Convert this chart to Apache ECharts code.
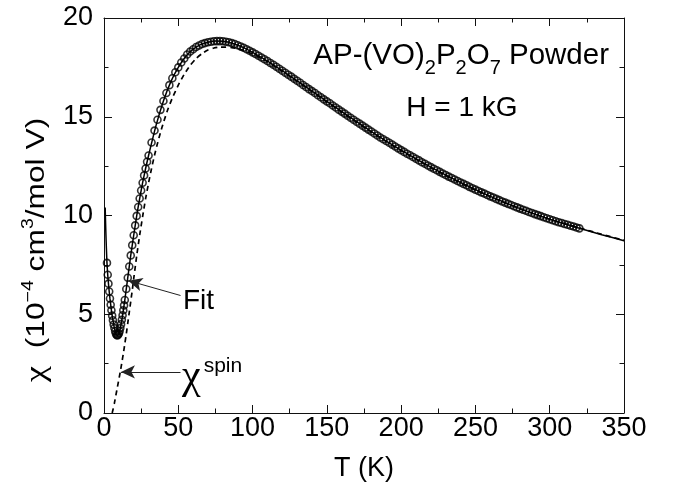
<!DOCTYPE html>
<html>
<head>
<meta charset="utf-8">
<script src="https://cdn.jsdelivr.net/npm/echarts@6/dist/echarts.min.js"></script>
<style>
html,body{margin:0;padding:0;background:#fff;}
#chart{width:675px;height:494px;}
</style>
</head>
<body>
<div id="chart"></div>
<script>
// ---- measured data (T in K, chi in 1e-4 cm^3/mol V) ----
const dataT = [2,2.5,3,3.5,4,4.5,5,5.5,6,6.5,7,7.5,8,8.5,9,9.5,10,10.5,11,11.5,12,12.5,13,13.5,
  14,15,16,17,18,19,20,21,22,23,24,25,26,27,28,29,30,
  32,34,36,38,40,42,44,46,48,50,52,54,56,58,60,62,64,66,68,70,72,74,76,78,80,82,84,86,88,90,92,94,96,98,100,
  102,104,106,108,110,112,114,116,118,120,122,124,126,128,130,132,134,136,138,140,142,144,146,148,150,
  152,154,156,158,160,162,164,166,168,170,172,174,176,178,180,182,184,186,188,190,192,194,196,198,200,
  202,204,206,208,210,212,214,216,218,220,222,224,226,228,230,232,234,236,238,240,242,244,246,248,250,
  252,254,256,258,260,262,264,266,268,270,272,274,276,278,280,282,284,286,288,290,292,294,296,298,300,
  302,304,306,308,310,312,314,316,318,320];
const dataChi = [7.6,7.0,6.55,6.15,5.8,5.48,5.2,4.93,4.7,4.48,4.3,4.14,4.02,3.95,3.93,3.96,4.03,4.14,4.3,4.5,4.72,4.95,5.2,5.45,
  5.72,6.28,6.85,7.42,7.98,8.5,9.0,9.5,9.98,10.43,10.86,11.27,11.66,12.03,12.38,12.72,13.04,
  13.7,14.3,14.85,15.35,15.8,16.2,16.6,16.95,17.25,17.5,17.75,17.95,18.15,18.3,18.42,18.53,18.61,18.68,18.73,18.77,18.8,18.82,18.83,18.83,18.82,18.8,18.77,18.73,18.68,18.62,18.56,18.49,18.42,18.34,18.26,
  18.18,18.09,18.0,17.91,17.82,17.72,17.63,17.53,17.43,17.33,17.23,17.13,17.03,16.92,16.82,16.72,16.61,16.51,16.4,16.3,16.2,16.09,15.99,15.88,15.78,
  15.68,15.57,15.47,15.36,15.26,15.16,15.05,14.95,14.85,14.75,14.65,14.55,14.45,14.35,14.25,14.15,14.05,13.95,13.86,13.77,13.68,13.59,13.49,13.4,13.31,
  13.22,13.13,13.05,12.96,12.87,12.79,12.7,12.62,12.53,12.45,12.37,12.29,12.21,12.13,12.05,11.97,11.9,11.82,11.75,11.67,11.6,11.53,11.45,11.38,11.31,
  11.24,11.17,11.11,11.04,10.97,10.91,10.84,10.78,10.71,10.65,10.59,10.53,10.47,10.41,10.35,10.29,10.24,10.18,10.13,10.07,10.02,9.97,9.91,9.86,9.81,
  9.76,9.71,9.66,9.62,9.57,9.53,9.48,9.44,9.39,9.35];

// fit curve (solid)
const fitT = [0.8,1.0,1.3,1.6,2.0,2.5,3,3.5,4,5,6,7,8,9,10,11,12,13,14,15,16,18,20,22,24,26,28,30,35,40,45,50,55,60,65,70,75,80,85,90,95,100,
  110,120,130,140,150,160,170,180,190,200,220,240,260,280,300,320,335,350];
const fitChi = [10.4,9.8,9.02,8.35,7.6,7.0,6.55,6.15,5.8,5.2,4.7,4.3,4.02,3.93,4.03,4.3,4.72,5.2,5.72,6.28,6.85,7.98,9.0,9.98,10.86,11.66,12.38,13.04,14.55,15.8,16.78,17.5,18.05,18.42,18.65,18.77,18.83,18.82,18.75,18.62,18.46,18.26,
  17.82,17.33,16.82,16.3,15.78,15.26,14.75,14.25,13.77,13.31,12.45,11.67,10.97,10.35,9.81,9.35,9.03,8.72];

// chi spin (dashed)
const spinT = [5.5,6,7,8,9,10,11,12,13,14,15,16,17,18,19,20,22,24,26,28,30,32,34,36,38,40,43,46,50,54,58,62,66,70,74,78,82,86,90,95,100,
  110,120,130,140,150,160,170,180,190,200,220,240,260,280,300,320,335,350];
const spinChi = [0,0.15,0.5,0.9,1.3,1.7,2.1,2.55,3.0,3.5,4.0,4.55,5.1,5.65,6.2,6.8,7.95,9.0,9.95,10.85,11.65,12.38,13.05,13.65,14.2,14.7,15.38,15.95,16.6,17.15,17.6,17.95,18.2,18.38,18.48,18.53,18.53,18.5,18.44,18.33,18.18,
  17.79,17.3,16.79,16.27,15.75,15.23,14.72,14.22,13.74,13.28,12.42,11.64,10.95,10.34,9.81,9.37,9.05,8.74];

const xTicks = [0,50,100,150,200,250,300,350];
const yTicks = [0,5,10,15,20];

// annotation arrows (data coordinates)
const fitArrow = [[51.5, 5.95], [16.4, 6.7]];
const spinArrow = [[51.5, 2.08], [11.4, 2.08]];

const zip = (a, b) => a.map((v, i) => [v, b[i]]);

const FONT = 'Liberation Sans';
const axisCommon = {
  type: 'value',
  axisLine: { show: true, onZero: false, lineStyle: { color: '#111', width: 1 } },
  axisTick: { show: true, inside: true, length: 8, lineStyle: { color: '#111', width: 1 } },
  minorTick: { show: true, splitNumber: 2, length: 4.5, lineStyle: { color: '#111', width: 1 } },
  splitLine: { show: false },
  minorSplitLine: { show: false }
};

const chart = echarts.init(document.getElementById('chart'), null, { renderer: 'canvas' });
chart.setOption({
  animation: false,
  backgroundColor: '#fff',
  grid: { left: 104, right: 51, top: 18, bottom: 81 },
  xAxis: [
    Object.assign({}, axisCommon, {
      min: xTicks[0], max: xTicks[xTicks.length - 1], interval: 50, position: 'bottom',
      axisLabel: { show: true, fontFamily: FONT, fontSize: 27, color: '#000', margin: 2 },
      name: 'T (K)', nameLocation: 'middle', nameGap: 42,
      nameTextStyle: { fontFamily: FONT, fontSize: 27, color: '#000' }
    }),
    Object.assign({}, axisCommon, {
      min: xTicks[0], max: xTicks[xTicks.length - 1], interval: 50, position: 'top',
      axisLabel: { show: false }
    })
  ],
  yAxis: [
    Object.assign({}, axisCommon, {
      min: yTicks[0], max: yTicks[yTicks.length - 1], interval: 5, position: 'left',
      axisLabel: { show: true, fontFamily: FONT, fontSize: 27, color: '#000', margin: 11 }
    }),
    Object.assign({}, axisCommon, {
      min: yTicks[0], max: yTicks[yTicks.length - 1], interval: 5, position: 'right',
      axisLabel: { show: false }
    })
  ],
  graphic: [
    {
      type: 'text', x: 37, y: 250, rotation: Math.PI / 2, scaleX: 1.22, scaleY: 1,
      style: {
        text: '{g|χ}{n|  (10}{s|−4}{n| cm}{s|3}{n|/mol V)}',
        align: 'center', verticalAlign: 'middle', fill: '#000',
        rich: {
          g: { fontFamily: 'Liberation Serif', fontSize: 30, lineHeight: 32 },
          n: { fontFamily: FONT, fontSize: 26, lineHeight: 32 },
          s: { fontFamily: FONT, fontSize: 16, verticalAlign: 'top' }
        }
      }
    },
    {
      type: 'text', x: 609, y: 56,
      style: {
        text: '{n|AP-(VO)}{b|2}{n|P}{b|2}{n|O}{b|7}{n| Powder}',
        align: 'right', verticalAlign: 'middle', fill: '#000',
        rich: {
          n: { fontFamily: FONT, fontSize: 29.5, lineHeight: 44 },
          b: { fontFamily: FONT, fontSize: 20, verticalAlign: 'bottom' }
        }
      }
    },
    {
      type: 'text', x: 462, y: 108,
      style: { text: 'H = 1 kG', align: 'center', verticalAlign: 'middle', fill: '#000', fontFamily: FONT, fontSize: 28 }
    },
    {
      type: 'text', x: 183, y: 301,
      style: { text: 'Fit', align: 'left', verticalAlign: 'middle', fill: '#000', fontFamily: FONT, fontSize: 28 }
    },
    {
      type: 'text', x: 182, y: 377,
      style: {
        text: '{g|χ}{s|spin}',
        align: 'left', verticalAlign: 'middle', fill: '#000',
        rich: {
          g: { fontFamily: 'Liberation Serif', fontSize: 42, lineHeight: 42 },
          s: { fontFamily: FONT, fontSize: 21, verticalAlign: 'top', padding: [0, 0, 0, 3] }
        }
      }
    }
  ],
  series: [
    {
      name: 'spin', type: 'line', xAxisIndex: 0, yAxisIndex: 0,
      data: zip(spinT, spinChi), showSymbol: false, smooth: 0.2,
      lineStyle: { color: '#000', width: 1.7, type: [5, 4] }
    },
    {
      name: 'fit', type: 'line', xAxisIndex: 0, yAxisIndex: 0,
      data: zip(fitT, fitChi), showSymbol: false, smooth: 0.2,
      lineStyle: { color: '#000', width: 1.5 },
      markLine: {
        silent: true, symbol: ['none', 'arrow'], symbolSize: [10, 14],
        label: { show: false },
        lineStyle: { color: '#222', width: 1, type: 'solid' },
        data: [
          [{ coord: fitArrow[0] }, { coord: fitArrow[1] }],
          [{ coord: spinArrow[0] }, { coord: spinArrow[1] }]
        ]
      }
    },
    {
      name: 'data', type: 'scatter', xAxisIndex: 0, yAxisIndex: 0,
      data: zip(dataT, dataChi), symbol: 'circle', symbolSize: 7,
      itemStyle: { color: 'rgba(0,0,0,0)', borderColor: '#000', borderWidth: 1.6 }
    }
  ]
});
</script>
</body>
</html>
